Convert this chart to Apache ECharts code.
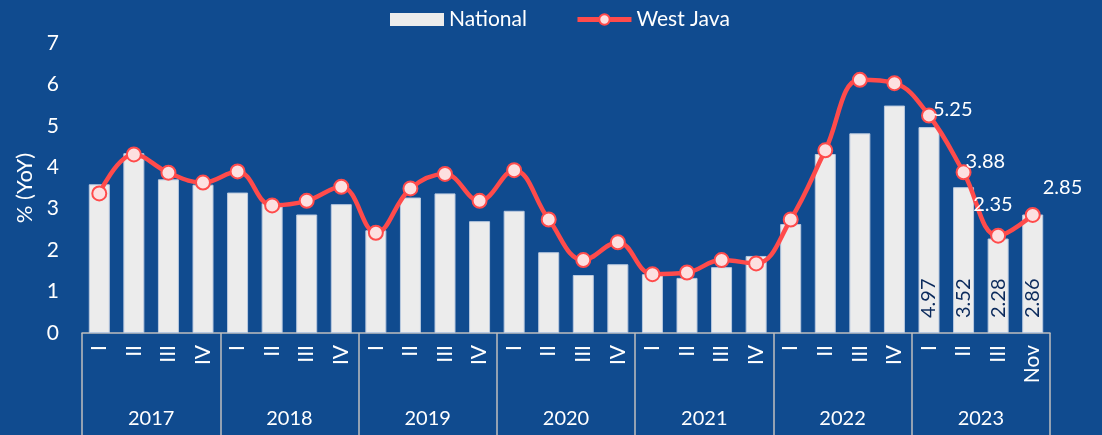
<!DOCTYPE html>
<html>
<head>
<meta charset="utf-8">
<script src="https://cdn.jsdelivr.net/npm/echarts@6/dist/echarts.min.js"></script>
<style>
  html, body { margin: 0; padding: 0; background: #104b8f; }
  #chart { width: 1102px; height: 435px; }
</style>
</head>
<body>
<div id="chart"></div>
<script>
  // data
  var quarters = ['I', 'II', 'III', 'IV', 'I', 'II', 'III', 'IV', 'I', 'II', 'III', 'IV',
    'I', 'II', 'III', 'IV', 'I', 'II', 'III', 'IV', 'I', 'II', 'III', 'IV', 'I', 'II', 'III', 'Nov'];
  var years = ['2017', '2018', '2019', '2020', '2021', '2022', '2023'];
  var national = [3.59, 4.34, 3.71, 3.58, 3.39, 3.14, 2.86, 3.11, 2.48, 3.27, 3.37, 2.70,
    2.95, 1.95, 1.40, 1.66, 1.42, 1.33, 1.59, 1.86, 2.63, 4.32, 4.82, 5.49, 4.97, 3.52, 2.28, 2.86];
  var westJava = [3.37, 4.31, 3.87, 3.63, 3.90, 3.08, 3.19, 3.53, 2.42, 3.49, 3.84, 3.19,
    3.93, 2.74, 1.76, 2.19, 1.42, 1.46, 1.76, 1.68, 2.74, 4.41, 6.11, 6.03, 5.25, 3.88, 2.35, 2.85];
  var yTicks = [0, 1, 2, 3, 4, 5, 6, 7];

  var txt = '#ffffff';
  var font = 'Lato, "Open Sans", sans-serif';
  var fs = 20;
  var lastFour = national.length - 4;

  // label offsets for the West Java values of 2023
  var lineOffsets = [[-9, -6], [-11, -11], [-38, -31], [-3, -27]];

  var nationalData = national.map(function (v, i) {
    if (i < lastFour) return v;
    return {
      value: v,
      label: {
        show: true, position: 'insideBottom', rotate: 90, align: 'left', verticalAlign: 'middle',
        distance: 15, color: '#0b2a5c', fontSize: fs, fontFamily: font,
        formatter: function (p) { return p.value.toFixed(2); }
      }
    };
  });
  var westData = westJava.map(function (v, i) {
    if (i < lastFour) return v;
    return {
      value: v,
      label: {
        show: true, position: 'right', offset: lineOffsets[i - lastFour],
        color: txt, fontSize: fs, fontFamily: font,
        formatter: function (p) { return p.value.toFixed(2); }
      }
    };
  });

  var chart = echarts.init(document.getElementById('chart'));
  chart.setOption({
    backgroundColor: '#104b8f',
    animation: false,
    textStyle: { fontFamily: font },
    legend: {
      top: 4,
      left: 385,
      itemWidth: 54,
      itemHeight: 13,
      itemGap: 48,
      textStyle: { color: txt, fontSize: 21, fontFamily: font },
      data: [
        { name: 'National', icon: 'rect', itemStyle: { borderWidth: 0 } },
        { name: 'West Java', lineStyle: { width: 5 } }
      ]
    },
    grid: { left: 82, right: 52, top: 43, bottom: 102 },
    xAxis: [{
      type: 'category',
      data: quarters,
      axisLine: { show: false },
      axisTick: { show: false },
      axisLabel: { color: txt, fontSize: 21, rotate: 90, margin: 12, interval: 0 }
    }, {
      type: 'category',
      position: 'bottom',
      data: years,
      axisLine: { show: true, lineStyle: { color: '#bfbfbf', width: 1.5 } },
      axisTick: { show: true, length: 102, lineStyle: { color: '#bfbfbf', width: 1.5 } },
      axisLabel: { color: txt, fontSize: fs, margin: 76 }
    }],
    yAxis: {
      type: 'value',
      min: yTicks[0],
      max: yTicks[yTicks.length - 1],
      interval: 1,
      name: '% (YoY)',
      nameLocation: 'middle',
      nameGap: 43,
      nameTextStyle: { color: txt, fontSize: 22 },
      axisLine: { show: false },
      axisTick: { show: false },
      splitLine: { show: false },
      axisLabel: { color: txt, fontSize: 21, margin: 23 }
    },
    series: [{
      name: 'National',
      type: 'bar',
      xAxisIndex: 0,
      barWidth: 21,
      itemStyle: { color: '#ececec', borderColor: '#b9c9df', borderWidth: 1 },
      data: nationalData
    }, {
      name: 'West Java',
      type: 'line',
      xAxisIndex: 0,
      smooth: 0.4,
      symbol: 'circle',
      symbolSize: 14,
      lineStyle: { color: '#ff4b4b', width: 4.5 },
      itemStyle: { color: '#fde0e0', borderColor: '#ff4b4b', borderWidth: 2 },
      data: westData,
      z: 3
    }]
  });
</script>
</body>
</html>
